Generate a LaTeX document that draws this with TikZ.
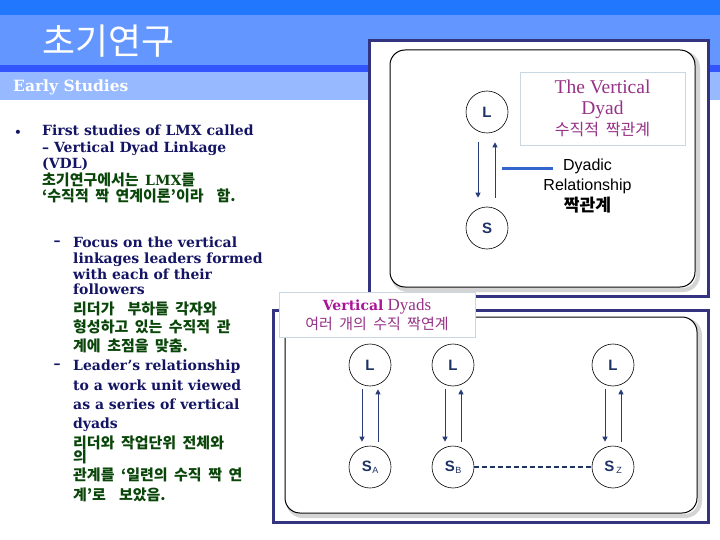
\documentclass[tikz,border=0pt]{standalone}
\usepackage{fontspec}
\setmainfont{DejaVu Serif}
\newfontfamily\krfont{Noto Sans CJK KR}[WordSpace=1.9,Scale=1.07]
\newfontfamily\lsans{Liberation Sans}
\newfontfamily\lserif{Liberation Serif}
\usetikzlibrary{arrows.meta}
\definecolor{bandA}{RGB}{34,119,255}
\definecolor{bandB}{RGB}{100,150,255}
\definecolor{bandC}{RGB}{51,85,255}
\definecolor{bandD}{RGB}{150,185,255}
\definecolor{navy}{RGB}{20,20,100}
\definecolor{kgreen}{RGB}{10,70,10}
\definecolor{frame}{RGB}{51,51,128}
\definecolor{arrowc}{RGB}{40,60,120}
\definecolor{ldrblue}{RGB}{30,50,100}
\definecolor{purp}{RGB}{150,50,135}
\definecolor{purpB}{RGB}{170,20,150}
\definecolor{tiegray}{RGB}{200,215,225}
\definecolor{linkblue}{RGB}{51,102,204}

\begin{document}
\begin{tikzpicture}[x=1pt,y=-1pt,>={Triangle[length=5pt,width=5pt]},
  dyad/.style={draw,circle,minimum size=42pt,inner sep=0pt,line width=0.6pt,text=ldrblue,font=\lsans\bfseries\fontsize{15}{15}\selectfont},
  tie/.style={draw=tiegray,fill=white,line width=0.8pt,align=center,text=purp},
  panel/.style={draw=frame,line width=3pt,fill=white},
  shade/.style={draw=black!17,line width=4pt,rounded corners=15pt},
  card/.style={draw,fill=white,line width=1pt,rounded corners=15pt},
  updn/.style={draw=arrowc,line width=0.9pt},
  txt/.style={anchor=north west,inner sep=0pt,align=left,text=navy}]
  \useasboundingbox (0,0) rectangle (720,540);
  % title bands
  \fill[bandA] (0,0) rectangle (720,15);
  \fill[bandB] (0,15) rectangle (720,65);
  \fill[bandC] (0,65) rectangle (720,72);
  \fill[bandD] (0,72) rectangle (720,100);
  \node[anchor=west,inner sep=0pt,text=white,font=\krfont\fontsize{33.5}{34}\selectfont] (ttl) at (42,41) {초기연구};
  \node[anchor=west,inner sep=0pt,text=white,font=\bfseries\fontsize{15.5}{16}\selectfont] (sttl) at (13,87) {Early Studies};

  % left text
  \node[text=navy,inner sep=0pt,font=\fontsize{14}{14}\selectfont] (bul) at (18,134) {•};
  \node[txt,font=\bfseries\fontsize{14}{16.5}\selectfont] (b1) at (42,125) {First studies of LMX called\\
    – Vertical Dyad Linkage\\
    (VDL)\\
    {\color{kgreen}\krfont 초기연구에서는 {\rmfamily LMX}를}\\
    {\color{kgreen}\krfont ‘수직적 짝 연계이론’이라 \ 함.}};
  \node[text=navy,inner sep=0pt,font=\bfseries\fontsize{14}{14}\selectfont] (d1) at (57,243) {–};
  \node[txt,font=\bfseries\fontsize{14}{15.7}\selectfont] (b2) at (73,237) {Focus on the vertical\\
    linkages leaders formed\\
    with each of their\\
    followers\\[4pt]
    {\color{kgreen}\krfont 리더가 \ 부하들 각자와}\\[2.5pt]
    {\color{kgreen}\krfont 형성하고 있는 수직적 관}\\[2.5pt]
    {\color{kgreen}\krfont 계에 초점을 맞춤.}};
  \node[text=navy,inner sep=0pt,font=\bfseries\fontsize{14}{14}\selectfont] (d2) at (57,366) {–};
  \node[txt,font=\bfseries\fontsize{14}{19.2}\selectfont] (b3) at (73,360) {Leader’s relationship\\
    to a work unit viewed\\
    as a series of vertical\\
    dyads\\[1pt]
    {\color{kgreen}\krfont 리더와 작업단위 전체와}\\[-5.5pt]
    {\color{kgreen}\krfont 의}\\[-1.5pt]
    {\color{kgreen}\krfont 관계를 ‘일련의 수직 짝 연}\\[1.5pt]
    {\color{kgreen}\krfont 계’로 \ 보았음.}};

  % upper panel: one dyad
  \draw[panel] (369,41) rectangle (708,296);
  \draw[shade] (393,53) rectangle (698,290);
  \draw[card] (390,50) rectangle (695,287);
  \node[tie,minimum width=165pt,minimum height=73pt,font=\lserif\fontsize{19.5}{21}\selectfont] (vd) at (602.5,108.5)
    {The Vertical\\
     Dyad\\
     {\krfont\fontsize{15}{21}\selectfont 수직적 짝관계}};
  \node[dyad] (L) at (487,112) {L};
  \node[dyad] (S) at (487,228) {S};
  \draw[updn,->,shorten <=9pt,shorten >=9pt] ([xshift=-9pt]L.south) -- ([xshift=-9pt]S.north);
  \draw[updn,->,shorten <=9pt,shorten >=9pt] ([xshift=8pt]S.north) -- ([xshift=8pt]L.south);
  \coordinate (lk1) at (502,169);
  \coordinate (lk2) at (553,169);
  \draw[draw=linkblue,line width=3pt] (lk1) -- (lk2);
  \node[align=center,inner sep=0pt,font=\lsans\fontsize{16}{20.5}\selectfont] (rel) at (587.5,186)
    {Dyadic\\Relationship\\{\krfont\bfseries\fontsize{16}{20.5}\selectfont 짝관계}};

  % lower panel: several dyads
  \draw[panel] (273,310) rectangle (708,522);
  \draw[shade] (288,320) rectangle (700,516);
  \draw[card] (285,317) rectangle (697,513);
  \node[tie,minimum width=196pt,minimum height=45pt,font=\lserif\fontsize{17}{19}\selectfont] (vds) at (377,314.5)
    {{\rmfamily\bfseries\color{purpB}\fontsize{14}{19}\selectfont Vertical} Dyads\\
     {\krfont\fontsize{14}{19}\selectfont 여러 개의 수직 짝연계}};
  \node[dyad] (la) at (370,365) {L};
  \node[dyad] (lb) at (453,365) {L};
  \node[dyad] (lz) at (613,365) {L};
  \node[dyad] (sa) at (370,467) {S\kern0.5pt\raisebox{-2pt}{\textnormal{\lsans\fontsize{9}{9}\selectfont A}}};
  \node[dyad] (sb) at (453,467) {S\kern0.5pt\raisebox{-2pt}{\textnormal{\lsans\fontsize{9}{9}\selectfont B}}};
  \node[dyad] (sz) at (613,467) {S\kern2pt\raisebox{-2pt}{\textnormal{\lsans\fontsize{9}{9}\selectfont Z}}};
  \foreach \a/\b in {la/sa,lb/sb,lz/sz}{
    \draw[updn,->,shorten <=3pt,shorten >=4pt] ([xshift=-8pt]\a.south) -- ([xshift=-8pt]\b.north);
    \draw[updn,->,shorten <=4pt,shorten >=3pt] ([xshift=8pt]\b.north) -- ([xshift=8pt]\a.south);
  }
  \draw[draw=ldrblue,line width=1.5pt,dash pattern=on 5pt off 3pt] (sb) -- (sz);
\end{tikzpicture}
\end{document}
